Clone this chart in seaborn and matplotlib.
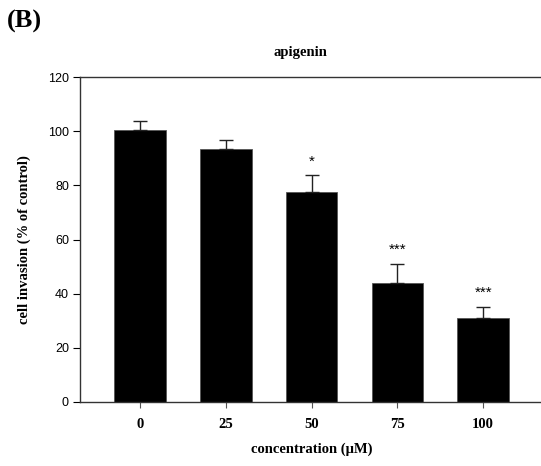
import matplotlib
matplotlib.use("Agg")
import matplotlib.pyplot as plt
import seaborn as sns
import numpy as np
import pandas as pd

concentrations = ["0", "25", "50", "75", "100"]
invasion = [100.5, 93.6, 77.5, 44.0, 31.0]
sem = [3.5, 3.4, 6.3, 7.0, 4.2]
significance = ["", "", "*", "***", "***"]

sns.set_theme(style="white")
plt.rcParams["font.family"] = ["Liberation Sans", "DejaVu Sans"]
plt.rcParams["text.color"] = "black"
plt.rcParams["axes.labelcolor"] = "black"

df = pd.DataFrame({"conc": concentrations, "inv": invasion})

fig = plt.figure(figsize=(5.41, 4.66), dpi=100)
ax = fig.add_axes([0.148, 0.138, 0.856, 0.696])

sns.barplot(data=df, x="conc", y="inv", color="black", width=0.6,
            errorbar=None, ax=ax, saturation=1, edgecolor="#555555", linewidth=0.6)

xpos = np.arange(len(concentrations))
ax.errorbar(xpos, invasion, yerr=[np.zeros(len(sem)), sem], fmt="none",
            ecolor="#222222", elinewidth=1.0, capsize=5, capthick=1.0)

for x, v, e, s in zip(xpos, invasion, sem, significance):
    if s:
        ax.text(x, v + e + 2.5, s, ha="center", va="bottom", fontsize=11,
                family="Liberation Sans", color="black")

ax.set_ylim(0, 120)
ax.set_xlim(-0.7, 4.7)
ax.set_yticks([0, 20, 40, 60, 80, 100, 120])
ax.tick_params(axis="y", direction="out", length=5, width=0.8, labelsize=9,
               left=True, colors="black", pad=3)
ax.tick_params(axis="x", direction="out", length=4, width=0.8, bottom=True,
               colors="#555555", pad=8)
for lab in ax.get_xticklabels():
    lab.set_family("Liberation Serif")
    lab.set_fontweight("bold")
    lab.set_fontsize(10.5)
    lab.set_color("black")
for lab in ax.get_yticklabels():
    lab.set_color("black")

for side in ["left", "bottom", "top", "right"]:
    ax.spines[side].set_visible(True)
    ax.spines[side].set_color("#333333")
    ax.spines[side].set_linewidth(1.0)

ax.set_xlabel("concentration (μM)", family="Liberation Serif", fontweight="bold",
              fontsize=10.5, labelpad=8)
ax.set_ylabel("cell invasion (% of control)", family="Liberation Serif",
              fontweight="bold", fontsize=10.5, labelpad=12)

fig.text(0.555, 0.888, "apigenin", ha="center", va="center",
         family="Liberation Serif", fontweight="bold", fontsize=10.5)
fig.text(0.012, 0.955, "(B)", ha="left", va="center",
         family="Liberation Serif", fontweight="bold", fontsize=19)

fig.savefig("out.png", dpi=100)
